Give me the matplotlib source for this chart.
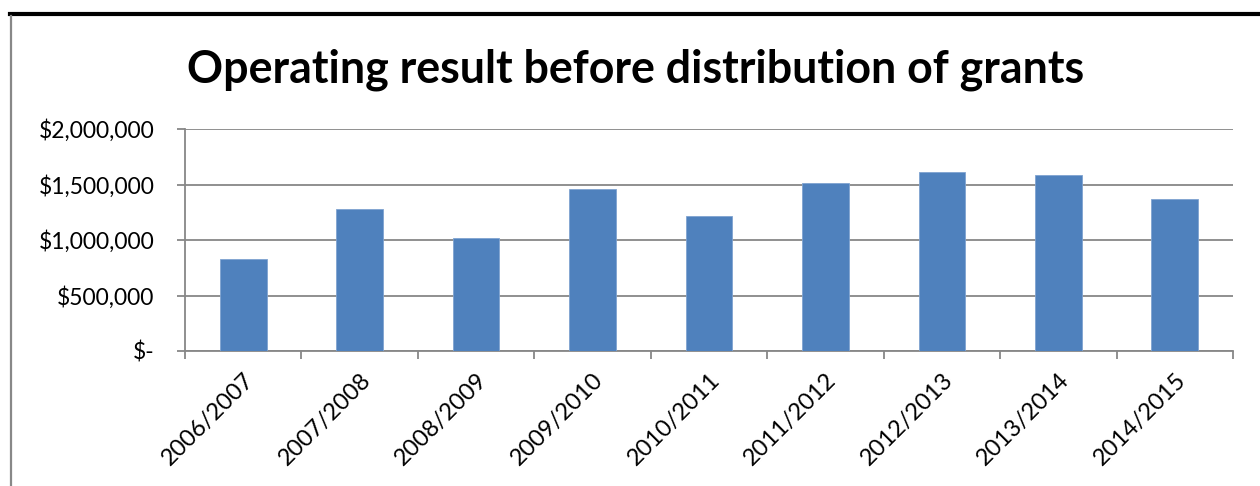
import matplotlib
matplotlib.use("Agg")
import matplotlib.pyplot as plt
from matplotlib.lines import Line2D
from matplotlib.ticker import FuncFormatter, FixedLocator

# ------------------------------------------------------------
# DATA
# ------------------------------------------------------------
years = ["2006/2007", "2007/2008", "2008/2009", "2009/2010", "2010/2011",
         "2011/2012", "2012/2013", "2013/2014", "2014/2015"]
result = [832000, 1281000, 1019000, 1456000, 1218000,
          1512000, 1614000, 1590000, 1371000]
y_ticks = [0, 500000, 1000000, 1500000, 2000000]

plt.rcParams['font.family'] = ['Lato', 'DejaVu Sans']

fig = plt.figure(figsize=(12.6, 4.86), dpi=100)
ax = fig.add_axes([185 / 1260, 1 - 351 / 486, 1048 / 1260, 222 / 486])

x = list(range(len(years)))
ax.bar(x, result, width=0.4, color="#4F81BD", edgecolor="#7FA3D0",
       linewidth=0.6, zorder=3)

ax.set_xlim(-0.5, len(years) - 0.5)
ax.set_ylim(0, 2000000)

# y axis in dollars, zero shown as "$-"
def dollars(v, pos):
    if v == 0:
        return "$-"
    return "${:,.0f}".format(v)

ax.yaxis.set_major_locator(FixedLocator(y_ticks))
ax.yaxis.set_major_formatter(FuncFormatter(dollars))
ax.grid(axis="y", color="#878787", linewidth=1.3, zorder=0)

# category labels centred, ticks on the boundaries
ax.set_xticks(x)
ax.set_xticklabels(years, rotation=45, ha="right", rotation_mode="anchor")
ax.set_xticks([i - 0.5 for i in range(len(years) + 1)], minor=True)
ax.tick_params(axis="x", which="major", length=0, pad=13, labelsize=17)
ax.tick_params(axis="x", which="minor", length=6, width=1.3, color="#878787")
ax.tick_params(axis="y", length=6, width=1.3, color="#878787", pad=16,
               labelsize=16.5)

for s in ["top", "right"]:
    ax.spines[s].set_visible(False)
for s in ["left", "bottom"]:
    ax.spines[s].set_color("#878787")
    ax.spines[s].set_linewidth(1.3)

fig.text(636 / 1260, 1 - 70 / 486, "Operating result before distribution of grants",
         ha="center", va="center", fontsize=32.2, fontweight="bold")

# chart frame (thick top edge, grey left edge)
fig.add_artist(Line2D([10 / 1260, 1], [1 - 14.5 / 486, 1 - 14.5 / 486],
                      color="black", linewidth=3.0, transform=fig.transFigure))
fig.add_artist(Line2D([10.5 / 1260, 10.5 / 1260], [0, 1 - 16 / 486],
                      color="#888888", linewidth=1.6, transform=fig.transFigure))

fig.savefig("out.png", dpi=100)
